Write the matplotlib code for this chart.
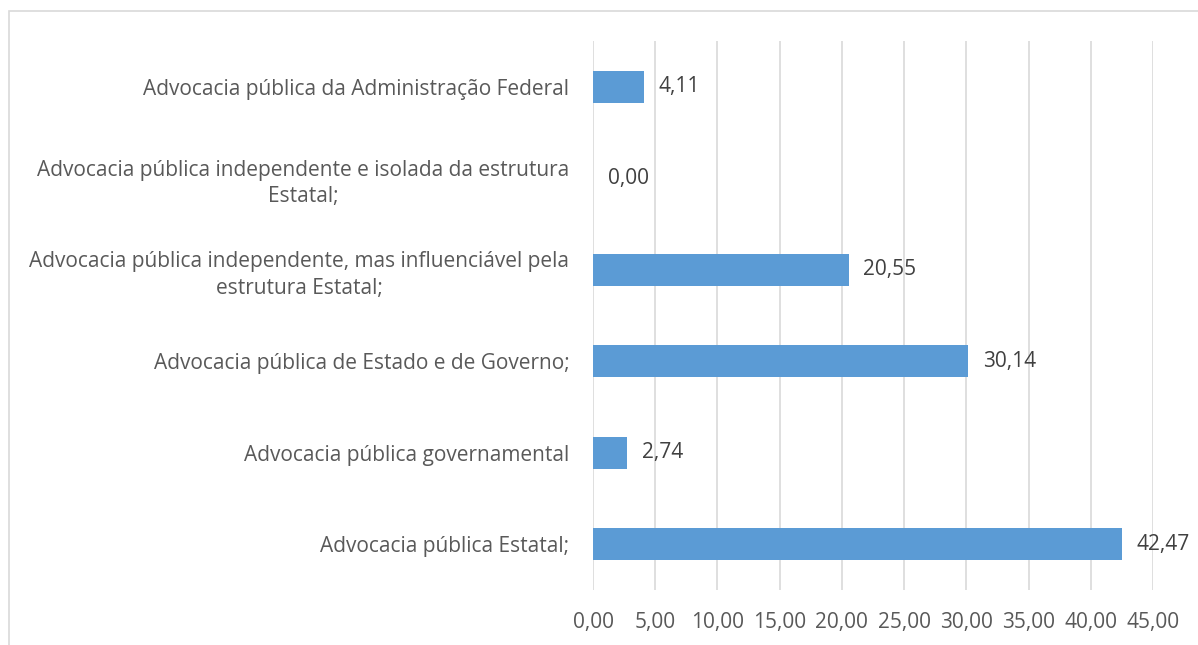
import matplotlib
matplotlib.use("Agg")
import matplotlib.pyplot as plt
from matplotlib.patches import Rectangle

categories = [
    "Advocacia pública Estatal;",
    "Advocacia pública governamental",
    "Advocacia pública de Estado e de Governo;",
    "Advocacia pública independente, mas influenciável pela\nestrutura Estatal;",
    "Advocacia pública independente e isolada da estrutura\nEstatal;",
    "Advocacia pública da Administração Federal",
]
values = [42.47, 2.74, 30.14, 20.55, 0.00, 4.11]
xticks = [0, 5, 10, 15, 20, 25, 30, 35, 40, 45]

plt.rcParams['font.family'] = ['Open Sans', 'DejaVu Sans']

W, H = 1198, 645
fig = plt.figure(figsize=(W/100, H/100), dpi=100)
ax = fig.add_axes([593/W, 1-590/H, (1153-593)/W, (590-41)/H])

y = list(range(len(categories)))
ax.barh(y, values, height=0.35, color='#5B9BD5', zorder=3)
ax.set_xlim(0, 45)
ax.set_ylim(-0.5, len(categories)-0.5)
ax.set_xticks(xticks)
ax.set_xticklabels([f"{v:.2f}".replace('.', ',') for v in xticks], color='#595959', fontsize=15)
ax.set_yticks(y)
ax.set_yticklabels(categories, color='#595959', fontsize=15, ha='right',
                   multialignment='center', linespacing=1.35)
ax.tick_params(axis='y', length=0, pad=17)
ax.tick_params(axis='x', length=0, pad=16)

ax.grid(axis='x', color='#D9D9D9', linewidth=1.2, zorder=0)
for s in ax.spines.values():
    s.set_visible(False)

for yi, v in zip(y, values):
    ax.annotate(f"{v:.2f}".replace('.', ','), xy=(v, yi), xytext=(10.5, 0), textcoords='offset points',
                va='center', ha='left', fontsize=15, color='#404040')

fig.patches.append(Rectangle((9/W, -0.1), 1.2, 1-11/H+0.1, transform=fig.transFigure,
                             fill=False, edgecolor='#D9D9D9', linewidth=1.2))

fig.savefig('out.png', dpi=100, facecolor='white')
